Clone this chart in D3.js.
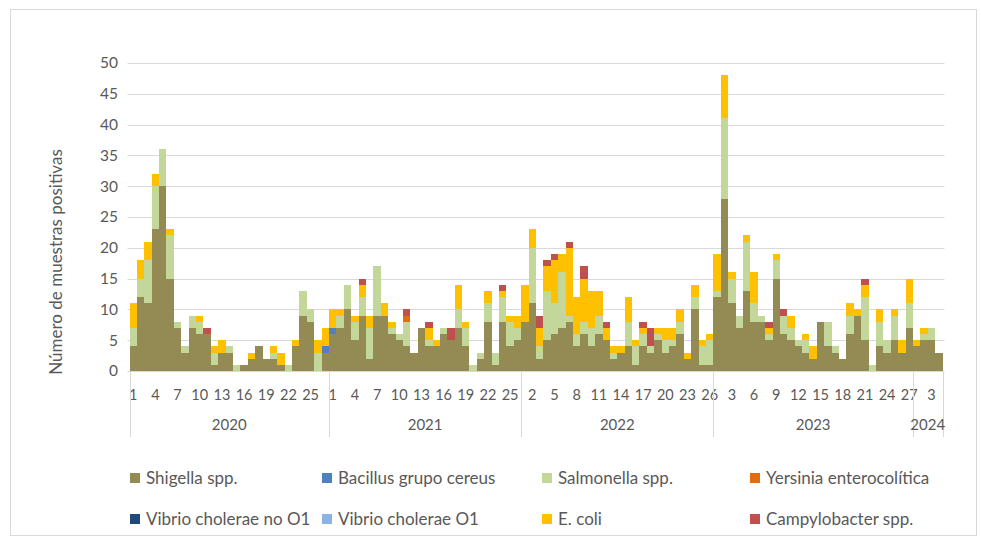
<!DOCTYPE html>
<html>
<head>
<meta charset="utf-8">
<style>
body { margin: 0; background: #fff; }
text { font-family: Lato, "Open Sans", sans-serif; fill: #595959; }
</style>
</head>
<body>
<svg width="981" height="543"></svg>
<script src="https://d3js.org/d3.v7.min.js"></script>
<script>

// categories: periods numbered inside each year
var years = [2020, 2021, 2022, 2023, 2024];
var periodsPerYear = [27, 26, 26, 27, 4];

var seriesNames = ["Shigella spp.", "Bacillus grupo cereus", "Salmonella spp.", "Yersinia enterocolítica",
	"Vibrio cholerae no O1", "Vibrio cholerae O1", "E. coli", "Campylobacter spp."];
var seriesColors = ["#948a54", "#4f81bd", "#c4d79b", "#e46c0a", "#1f497d", "#8db3e2", "#ffc000", "#c0504d"];

var shigella = [].concat(
	[4,12,11,23,30,15,7,3,7,6,6,1,3,3,0,1,2,4,2,2,1,0,4,9,8,0,3],
	[6,7,10,5,9,2,9,9,6,5,4,3,7,4,4,6,5,7,4,0,2,8,1,8,4,5],
	[8,11,2,5,6,7,8,4,6,4,6,5,2,3,4,1,4,3,5,3,4,6,2,10,1,1],
	[12,28,11,7,13,8,8,5,15,6,5,4,3,2,8,4,3,2,6,9,5,0,4,3,5,3,7],
	[4,5,5,3]);
var bacillus = [].concat(
	[0,0,0,0,0,0,0,0,0,0,0,0,0,0,0,0,0,0,0,0,0,0,0,0,0,0,1],
	[1,0,0,0,0,0,0,0,0,0,0,0,0,0,0,0,0,0,0,0,0,0,0,0,0,0],
	[0,0,0,0,0,0,0,0,0,0,0,0,0,0,0,0,0,0,0,0,0,0,0,0,0,0],
	[0,0,0,0,0,0,0,0,0,0,0,0,0,0,0,0,0,0,0,0,0,0,0,0,0,0,0],
	[0,0,0,0]);
var salmonella = [].concat(
	[3,3,7,7,6,7,1,1,2,2,0,2,0,1,1,0,0,0,0,1,0,1,0,4,2,3,0],
	[0,2,4,3,3,5,8,0,1,1,4,0,0,1,0,1,0,3,3,1,1,3,2,4,4,2],
	[0,9,2,8,5,9,1,2,2,3,3,0,1,0,4,3,2,1,1,2,1,2,0,2,3,4],
	[1,13,4,2,8,3,1,1,3,3,2,1,2,0,0,4,1,0,3,0,7,1,4,2,4,0,4],
	[0,1,2,0]);
var yersinia = [].concat(
	[0,0,0,0,0,0,0,0,0,0,0,0,0,0,0,0,0,0,0,0,0,0,0,0,0,0,0],
	[0,0,0,0,0,0,0,0,0,0,1,0,0,0,0,0,0,0,0,0,0,0,0,0,0,0],
	[0,0,0,0,0,0,0,0,0,0,0,0,0,0,0,0,0,0,0,0,0,0,0,0,0,0],
	[0,0,0,0,0,0,0,0,0,0,0,0,0,0,0,0,0,0,0,0,0,0,0,0,0,0,0],
	[0,0,0,0]);
var vibrioNoO1 = d3.range(110).map(function() { return 0; });
var vibrioO1 = d3.range(110).map(function() { return 0; });
var ecoli = [].concat(
	[4,3,3,2,0,1,0,0,0,1,0,1,2,0,0,0,1,0,0,1,2,0,1,0,0,2,3],
	[3,1,0,1,2,2,0,2,1,0,0,0,0,2,1,0,0,4,1,0,0,2,0,1,1,2],
	[6,3,3,4,7,3,11,6,7,6,4,2,1,1,4,1,1,0,1,2,2,2,1,2,1,1],
	[6,7,1,0,1,5,0,1,1,0,2,0,1,2,0,0,0,0,2,1,2,0,2,0,1,2,4],
	[1,1,0,0]);
var campylobacter = [].concat(
	[0,0,0,0,0,0,0,0,0,0,1,0,0,0,0,0,0,0,0,0,0,0,0,0,0,0,0],
	[0,0,0,0,1,0,0,0,0,0,1,0,0,1,0,0,2,0,0,0,0,0,0,1,0,0],
	[0,0,2,1,1,0,1,0,2,0,0,1,0,0,0,0,1,3,0,0,0,0,0,0,0,0],
	[0,0,0,0,0,0,0,1,0,1,0,0,0,0,0,0,0,0,0,0,1,0,0,0,0,0,0],
	[0,0,0,0]);
var yTicks = [0,5,10,15,20,25,30,35,40,45,50];

var seriesValues = [shigella, bacillus, salmonella, yersinia, vibrioNoO1, vibrioO1, ecoli, campylobacter];

//build the rows
var rows = [];
years.forEach(function(yr, k) {
	for (var w = 1; w <= periodsPerYear[k]; w++) rows.push({key: yr + "-" + w, year: yr, week: w});
});
rows.forEach(function(r, i) {
	seriesNames.forEach(function(s, j) { r[s] = seriesValues[j][i]; });
});

var svg = d3.select("svg");
var plotL = 129.5, plotR = 942.5, plotT = 63, plotB = 371;

//outer frame
svg.append("rect").attr("x", 10.5).attr("y", 9.5).attr("width", 966).attr("height", 526)
	.attr("fill", "none").attr("stroke", "#d9d9d9");

var x = d3.scaleBand().domain(rows.map(function(r) { return r.key; })).range([plotL, plotR]).padding(0);
var y = d3.scaleLinear().domain([0, 50]).range([plotB, plotT]);

//gridlines
svg.append("g").selectAll("line").data(yTicks.slice(1)).enter().append("line")
	.attr("x1", plotL - 2).attr("x2", plotR + 2)
	.attr("y1", function(d) { return Math.round(y(d)) + 0.5; }).attr("y2", function(d) { return Math.round(y(d)) + 0.5; })
	.attr("stroke", "#d9d9d9").attr("stroke-width", 1);

//y tick labels
svg.append("g").selectAll("text").data(yTicks).enter().append("text")
	.attr("x", 118).attr("y", function(d) { return y(d); }).attr("dy", "0.35em")
	.attr("text-anchor", "end").style("font-size", "15.5px").text(function(d) { return d; });

//y title
svg.append("text").attr("transform", "translate(56,262) rotate(-90)")
	.attr("text-anchor", "middle").attr("dy", "0.35em").style("font-size", "17px")
	.text("Número de muestras positivas");

//stacked bars
var stack = d3.stack().keys(seriesNames)(rows);
svg.append("g").selectAll("g").data(stack).enter().append("g")
	.attr("fill", function(d, j) { return seriesColors[j]; })
	.selectAll("rect").data(function(d) { return d.filter(function(p) { return p[1] > p[0]; }); })
	.enter().append("rect")
	.attr("x", function(p) { return x(p.data.key); })
	.attr("width", x.bandwidth())
	.attr("y", function(p) { return y(p[1]); })
	.attr("height", function(p) { return y(p[0]) - y(p[1]); })
	.attr("shape-rendering", "crispEdges");

//x axis line
svg.append("line").attr("x1", plotL - 2).attr("x2", plotR + 2).attr("y1", plotB + 0.5).attr("y2", plotB + 0.5)
	.attr("stroke", "#d9d9d9");

//x tick labels, every third period
svg.append("g").selectAll("text").data(rows.filter(function(r, i) { return i % 3 === 0; }))
	.enter().append("text")
	.attr("x", function(r) { return x(r.key) + x.bandwidth() / 2; })
	.attr("y", 395).attr("dy", "0.35em").attr("text-anchor", "middle")
	.style("font-size", "14.5px").text(function(r) { return r.week; });

//year groups
var bounds = [];
years.forEach(function(yr) {
	var ks = rows.filter(function(r) { return r.year === yr; });
	bounds.push({year: yr, x0: x(ks[0].key), x1: x(ks[ks.length - 1].key) + x.bandwidth()});
});
var seps = bounds.map(function(b) { return b.x0; }).concat([plotR]);
svg.append("g").selectAll("line").data(seps).enter().append("line")
	.attr("x1", function(d) { return Math.round(d) + 0.5; }).attr("x2", function(d) { return Math.round(d) + 0.5; })
	.attr("y1", plotB).attr("y2", 437).attr("stroke", "#d9d9d9");
svg.append("g").selectAll("text").data(bounds).enter().append("text")
	.attr("x", function(b) { return (b.x0 + b.x1) / 2; }).attr("y", 425).attr("dy", "0.35em")
	.attr("text-anchor", "middle").style("font-size", "15px").text(function(b) { return b.year; });

//legend
var legCols = [130, 322, 542, 750], legRows = [478, 519];
var leg = svg.append("g").selectAll("g").data(seriesNames).enter().append("g")
	.attr("transform", function(d, j) { return "translate(" + legCols[j % 4] + "," + legRows[Math.floor(j / 4)] + ")"; });
leg.append("rect").attr("x", 0).attr("y", -5).attr("width", 10).attr("height", 10)
	.attr("fill", function(d, j) { return seriesColors[j]; });
leg.append("text").attr("x", 16).attr("dy", "0.35em").style("font-size", "17px").text(function(d) { return d; });

</script>
</body>
</html>
